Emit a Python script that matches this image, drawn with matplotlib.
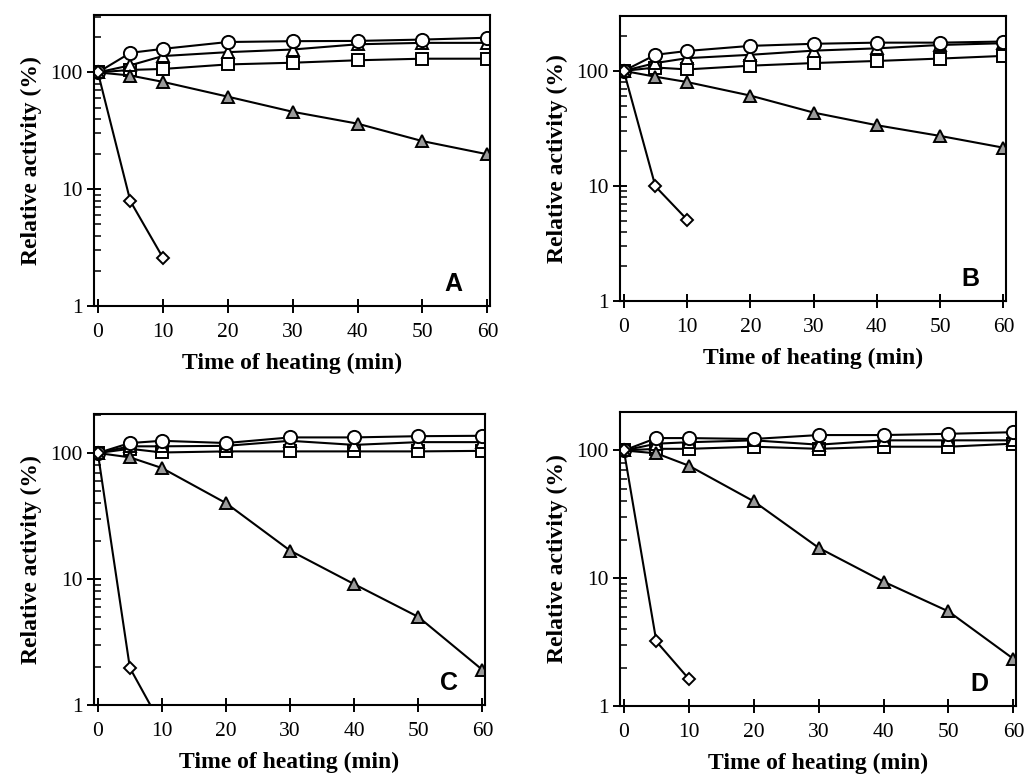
import matplotlib
matplotlib.use("Agg")
import matplotlib.pyplot as plt
import numpy as np

time = [0, 5, 10, 20, 30, 40, 50, 60]
time_diamond = [0, 5, 10]

# Panel A
A_circle = [100, 147, 159, 182, 185, 186, 191, 198]
A_tri_open = [100, 115, 138, 149, 157, 174, 179, 179]
A_square = [100, 105, 107, 117, 121, 127, 131, 131]
A_tri_grey = [100, 94, 83, 62, 46, 36.4, 25.8, 19.9]
A_diamond = [100, 7.9, 2.6]

# Panel B
B_circle = [100, 138, 149, 165, 172, 176, 176, 180]
B_tri_open = [100, 117, 129, 138, 150, 157, 168, 174]
B_square = [100, 107, 103, 111, 117, 122, 128, 135]
B_tri_grey = [100, 89, 80, 61, 43.4, 33.7, 27.2, 21.5]
B_diamond = [100, 9.9, 5.1]

# Panel C
C_circle = [100, 120, 125, 120, 133, 133, 136, 137]
C_tri_open = [100, 113, 113, 114, 125, 116, 122, 122]
C_square = [100, 108, 101, 103, 103, 103, 103, 104]
C_tri_grey = [100, 92.4, 76, 40, 16.8, 9.1, 5.0, 1.9]
C_diamond = [100, 1.97, 0.68]

# Panel D
D_circle = [100, 125, 125, 123, 132, 132, 135, 139]
D_tri_open = [100, 113, 116, 120, 111, 120, 120, 120]
D_square = [100, 103, 103, 107, 103, 107, 107, 113]
D_tri_grey = [100, 95, 76, 40, 17.3, 9.4, 5.5, 2.34]
D_diamond = [100, 3.2, 1.63]

panel_letters = ["A", "B", "C", "D"]
x_ticks = [0, 10, 20, 30, 40, 50, 60]
y_ticks = [1, 10, 100]
y_top = [310, 300, 204, 200]

panels = [
    (A_circle, A_tri_open, A_square, A_tri_grey, A_diamond),
    (B_circle, B_tri_open, B_square, B_tri_grey, B_diamond),
    (C_circle, C_tri_open, C_square, C_tri_grey, C_diamond),
    (D_circle, D_tri_open, D_square, D_tri_grey, D_diamond),
]

W, H = 1024, 778
# axes rectangles in pixels: left, right, top, bottom
rects = [
    (94, 490, 15, 306),
    (620, 1006, 16, 301),
    (94, 485, 414, 705),
    (620, 1016, 412, 706),
]

fig = plt.figure(figsize=(W / 100, H / 100), dpi=100)
serif = ["Times New Roman", "Liberation Serif", "DejaVu Serif"]

for letter, (circ, trio, sq, trig, dia), ytop, (l, r, t, b) in zip(panel_letters, panels, y_top, rects):
    ax = fig.add_axes([l / W, 1 - b / H, (r - l) / W, (b - t) / H])
    ax.set_yscale("log")
    base = dict(color="black", lw=1.5, mew=1.4, mec="black")
    ax.plot(time, sq, marker="s", mfc="white", ms=8, **base)
    ax.plot(time, trio, marker="^", mfc="white", ms=9, **base)
    ax.plot(time, circ, marker="o", mfc="white", ms=9.5, **base)
    ax.plot(time, trig, marker="^", mfc="#9a9a9a", ms=9, **base)
    ax.plot(time_diamond, dia, marker="D", mfc="white", ms=6, **base)
    ax.set_xlim(-0.6, 60.4)
    ax.set_ylim(1, ytop)
    ax.set_xticks(x_ticks)
    ax.set_yticks(y_ticks)
    ax.set_yticklabels([str(v) for v in y_ticks])
    ax.set_xticklabels([str(v) for v in x_ticks])
    ax.tick_params(axis="x", which="major", direction="inout", length=10, width=1.4,
                   labelsize=15.5, pad=7)
    ax.tick_params(axis="y", which="major", direction="inout", length=10, width=1.4,
                   labelsize=15.5, pad=3)
    ax.tick_params(axis="y", which="minor", direction="in", length=5, width=1.1)
    for lab in ax.get_xticklabels() + ax.get_yticklabels():
        lab.set_fontfamily(serif)
    for s in ax.spines.values():
        s.set_linewidth(1.5)
    ax.set_xlabel("Time of heating (min)", fontsize=17, fontweight="bold",
                  family=serif, labelpad=8)
    ax.set_ylabel("Relative activity (%)", fontsize=17, fontweight="bold",
                  family=serif, labelpad=6)
    ax.text(0.93, 0.035, letter, transform=ax.transAxes, fontsize=18,
            fontweight="bold", family=["Liberation Sans", "DejaVu Sans"],
            ha="right", va="bottom")

fig.savefig("out.png", dpi=100)
